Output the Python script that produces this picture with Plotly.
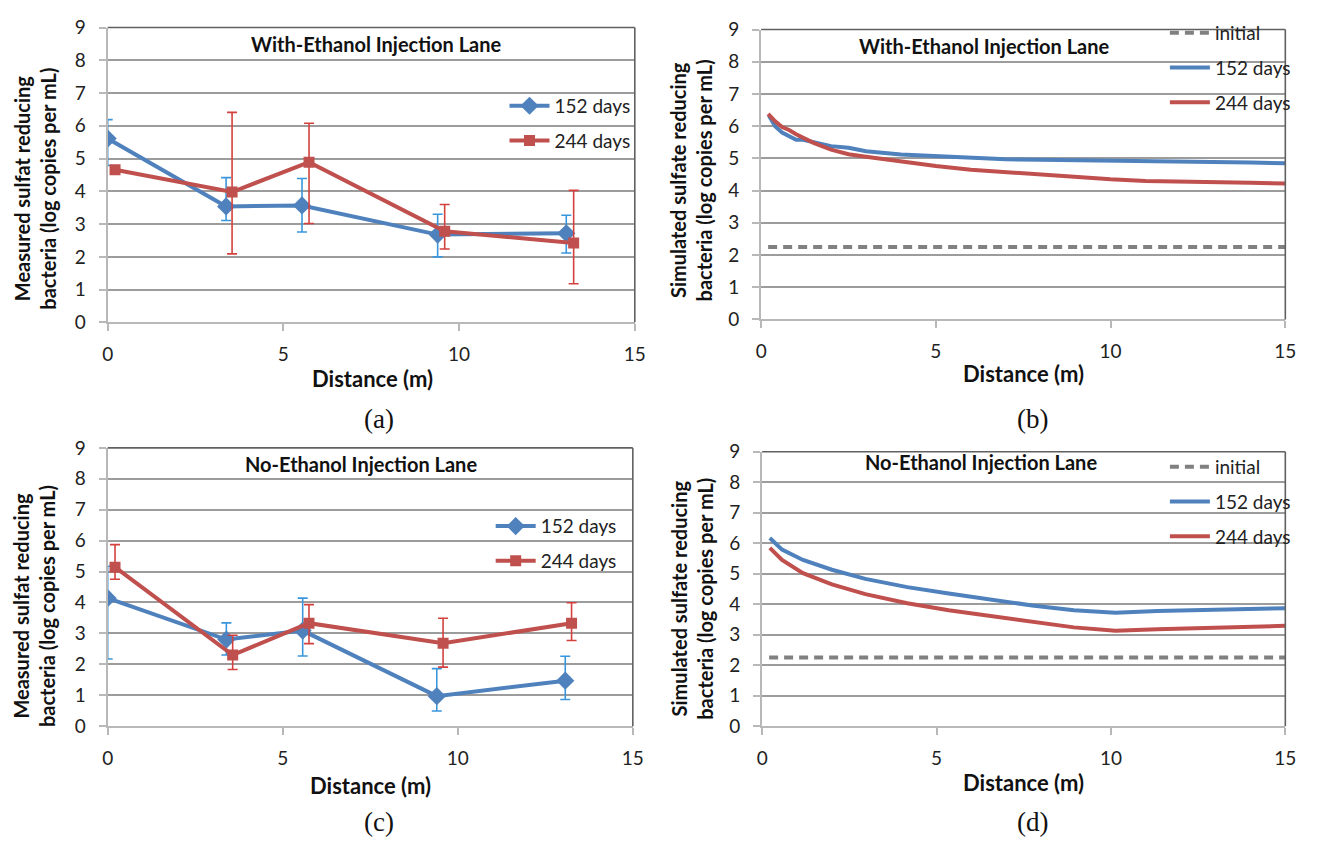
import plotly.graph_objects as go

W, H = 1321, 850

# ---- measured data (a): with-ethanol injection lane ----
dist_152_a = [0.0, 3.37, 5.53, 9.39, 13.05]
srb_152_a = [5.61, 3.54, 3.57, 2.68, 2.72]
hi_152_a = [6.19, 4.42, 4.39, 3.30, 3.27]
lo_152_a = [4.79, 3.11, 2.76, 2.00, 2.12]

dist_244_a = [0.21, 3.54, 5.73, 9.59, 13.26]
srb_244_a = [4.66, 3.98, 4.89, 2.78, 2.42]
hi_244_a = [4.66, 6.41, 6.08, 3.60, 4.03]
lo_244_a = [4.66, 2.09, 3.02, 2.24, 1.18]

# ---- measured data (c): no-ethanol injection lane ----
dist_152_c = [0.0, 3.39, 5.57, 9.40, 13.07]
srb_152_c = [4.14, 2.80, 3.09, 0.97, 1.47]
hi_152_c = [5.17, 3.34, 4.14, 1.86, 2.26]
lo_152_c = [2.17, 2.30, 2.27, 0.49, 0.86]

dist_244_c = [0.21, 3.57, 5.75, 9.58, 13.25]
srb_244_c = [5.14, 2.30, 3.33, 2.68, 3.33]
hi_244_c = [5.87, 2.94, 3.93, 3.49, 3.99]
lo_244_c = [4.75, 1.83, 2.67, 1.91, 2.77]

# ---- simulated profiles (b): with-ethanol lane ----
sim_x_152_b = [0.22, 0.4, 0.6, 0.8, 1.0, 1.2, 1.5, 2.0, 2.5, 3.0, 4.0, 5.0, 6.0, 7.0,
               8.0, 9.0, 10.0, 11.0, 12.0, 13.0, 14.0, 15.0]
sim_y_152_b = [6.33, 6.00, 5.80, 5.70, 5.58, 5.58, 5.50, 5.38, 5.33, 5.22, 5.12, 5.06,
               5.00, 4.97, 4.96, 4.95, 4.94, 4.93, 4.90, 4.89, 4.87, 4.85]
sim_x_244_b = [0.2, 0.4, 0.6, 0.8, 1.0, 1.5, 2.0, 2.5, 3.0, 4.0, 5.0, 6.0, 7.0, 8.0,
               9.0, 10.0, 11.0, 12.0, 13.0, 14.0, 15.0]
sim_y_244_b = [6.38, 6.15, 5.97, 5.88, 5.75, 5.48, 5.27, 5.13, 5.05, 4.90, 4.76, 4.65,
               4.57, 4.50, 4.42, 4.35, 4.30, 4.27, 4.25, 4.24, 4.22]

# ---- simulated profiles (d): no-ethanol lane ----
sim_x_152_d = [0.22, 0.57, 1.17, 2.0, 2.96, 4.16, 5.35, 6.55, 7.74, 8.94, 10.13,
               11.33, 12.53, 15.0]
sim_y_152_d = [6.17, 5.79, 5.45, 5.13, 4.83, 4.56, 4.35, 4.14, 3.96, 3.80, 3.72,
               3.78, 3.82, 3.87]
sim_x_244_d = [0.22, 0.57, 1.17, 2.0, 2.96, 4.16, 5.35, 6.55, 7.74, 8.94, 10.13,
               11.33, 15.0]
sim_y_244_d = [5.85, 5.45, 5.02, 4.65, 4.33, 4.03, 3.80, 3.61, 3.43, 3.24, 3.13,
               3.18, 3.29]

# initial condition
init_x = [0.2, 15.0]
init_srb = 2.25

BLUE, RED = "#4f81bd", "#c0504d"
BLUE_ERR, RED_ERR = "#3a96dc", "#d2413d"
GRID, AXIS, FRAME = "#9c9c9c", "#b8b8b8", "#606060"
FONT = "Lato"
TXT = 19


def px(x):
    return x / W


def py(y):
    return 1 - y / H


def err(vals, hi, lo):
    return [h - v for h, v in zip(hi, vals)], [v - l for v, l in zip(vals, lo)]


fig = go.Figure()

# panel geometry in pixels: (left, right, top, bottom)
panels = {
    1: (103, 637, 16, 319),
    2: (765, 1296, 18, 316),
    3: (103, 635, 448, 734),
    4: (766, 1296, 452, 734),
}

for i, (l, r, t, b) in panels.items():
    sfx = "" if i == 1 else str(i)
    fig.update_layout({
        f"xaxis{sfx}": dict(
            domain=[px(l), px(r)], anchor=f"y{sfx}", range=[0, 15],
            tickvals=[0, 5, 10, 15], ticks="outside", ticklen=7, tickcolor=AXIS,
            tickwidth=2, showgrid=False, zeroline=False, showline=True,
            linecolor=AXIS, linewidth=2, ticklabelstandoff=7,
            tickfont=dict(family=FONT, size=TXT, color="#222"),
        ),
        f"yaxis{sfx}": dict(
            domain=[py(b), py(t)], anchor=f"x{sfx}", range=[0, 9],
            tickvals=list(range(10)), ticks="outside", ticklen=7, tickcolor=AXIS,
            tickwidth=2, showgrid=True, gridcolor=GRID, gridwidth=1.6,
            zeroline=False, showline=True, linecolor=AXIS, linewidth=2,
            ticklabelstandoff=9,
            tickfont=dict(family=FONT, size=TXT, color="#222"),
        ),
    })
    # top and right edges of the plot frame
    for x0, y0, x1, y1 in [(0, 1, 1, 1), (1, 0, 1, 1)]:
        fig.add_shape(type="line", xref=f"x{sfx} domain", yref=f"y{sfx} domain",
                      x0=x0, y0=y0, x1=x1, y1=y1,
                      line=dict(color=FRAME, width=1.6), layer="above")


def measured(x, y, hi, lo, name, color, ecolor, symbol, msize, xa, ya, legend):
    up, dn = err(y, hi, lo)
    fig.add_trace(go.Scatter(
        x=x, y=y, name=name, mode="lines+markers", xaxis=xa, yaxis=ya,
        legend=legend, legendgroup=legend + name,
        line=dict(color=color, width=4),
        marker=dict(symbol=symbol, size=msize, color=color),
        error_y=dict(type="data", symmetric=False, array=up, arrayminus=dn,
                     color=ecolor, thickness=1.6, width=5),
    ))


def simulated(x, y, name, color, xa, ya, legend, dash="solid"):
    fig.add_trace(go.Scatter(
        x=x, y=y, name=name, mode="lines", xaxis=xa, yaxis=ya,
        legend=legend, legendgroup=legend + name,
        line=dict(color=color, width=4, dash=dash),
    ))


measured(dist_152_a, srb_152_a, hi_152_a, lo_152_a, "152 days", BLUE, BLUE_ERR,
         "diamond", 14, "x", "y", "legend")
measured(dist_244_a, srb_244_a, hi_244_a, lo_244_a, "244 days", RED, RED_ERR,
         "square", 11, "x", "y", "legend")

simulated(init_x, [init_srb] * len(init_x), "initial", "#808080", "x2", "y2",
          "legend2", dash="9px,6px")
simulated(sim_x_152_b, sim_y_152_b, "152 days", BLUE, "x2", "y2", "legend2")
simulated(sim_x_244_b, sim_y_244_b, "244 days", RED, "x2", "y2", "legend2")

measured(dist_152_c, srb_152_c, hi_152_c, lo_152_c, "152 days", BLUE, BLUE_ERR,
         "diamond", 14, "x3", "y3", "legend3")
measured(dist_244_c, srb_244_c, hi_244_c, lo_244_c, "244 days", RED, RED_ERR,
         "square", 11, "x3", "y3", "legend3")

simulated(init_x, [init_srb] * len(init_x), "initial", "#808080", "x4", "y4",
          "legend4", dash="9px,6px")
simulated(sim_x_152_d, sim_y_152_d, "152 days", BLUE, "x4", "y4", "legend4")
simulated(sim_x_244_d, sim_y_244_d, "244 days", RED, "x4", "y4", "legend4")

legend_style = dict(
    xanchor="left", yanchor="top", bgcolor="rgba(0,0,0,0)", borderwidth=0,
    font=dict(family=FONT, size=TXT, color="#222"), itemwidth=40,
    tracegroupgap=7, traceorder="grouped",
)
fig.update_layout(
    legend=dict(x=px(505), y=py(77), **legend_style),
    legend2=dict(x=px(1174), y=py(2), **legend_style),
    legend3=dict(x=px(491), y=py(509), **legend_style),
    legend4=dict(x=px(1174), y=py(448), **legend_style),
)

annotations = []
bold = dict(family=FONT, size=20, color="#111")
# lane titles inside the plot areas
for text, x, y in [("With-Ethanol Injection Lane", 375, 33),
                   ("With-Ethanol Injection Lane", 991, 35),
                   ("No-Ethanol Injection Lane", 360, 465),
                   ("No-Ethanol Injection Lane", 988, 463)]:
    annotations.append(dict(text=f"<b>{text}</b>", x=px(x), y=py(y), xref="paper",
                            yref="paper", showarrow=False, font=bold,
                            xanchor="center", yanchor="middle"))
# x-axis titles
for x, y in [(371, 377), (1031, 372), (369, 795), (1031, 792)]:
    annotations.append(dict(text="<b>Distance (m)</b>", x=px(x), y=py(y),
                            xref="paper", yref="paper", showarrow=False,
                            font=dict(family=FONT, size=22, color="#111"),
                            xanchor="center", yanchor="middle"))
# y-axis titles
for text, x, y in [("Measured sulfat reducing<br>bacteria (log copies per mL)", 29, 182),
                   ("Simulated sulfate reducing<br>bacteria (log copies per mL)", 694, 173),
                   ("Measured sulfat reducing<br>bacteria (log copies per mL)", 29, 611),
                   ("Simulated sulfate reducing<br>bacteria (log copies per mL)", 695, 603)]:
    annotations.append(dict(text=f"<b>{text}</b>", x=px(x), y=py(y), xref="paper",
                            yref="paper", showarrow=False, textangle=-90,
                            font=dict(family=FONT, size=20, color="#111"),
                            xanchor="center", yanchor="middle"))
# panel letters
for text, x, y in [("(a)", 378, 418), ("(b)", 1040, 418), ("(c)", 378, 833),
                   ("(d)", 1040, 833)]:
    annotations.append(dict(text=text, x=px(x), y=py(y), xref="paper", yref="paper",
                            showarrow=False,
                            font=dict(family="Liberation Serif", size=27, color="#111"),
                            xanchor="center", yanchor="middle"))

fig.update_layout(
    width=W, height=H, margin=dict(l=0, r=0, t=0, b=0),
    paper_bgcolor="white", plot_bgcolor="white",
    annotations=annotations, showlegend=True,
)

fig.write_html("out.html")
